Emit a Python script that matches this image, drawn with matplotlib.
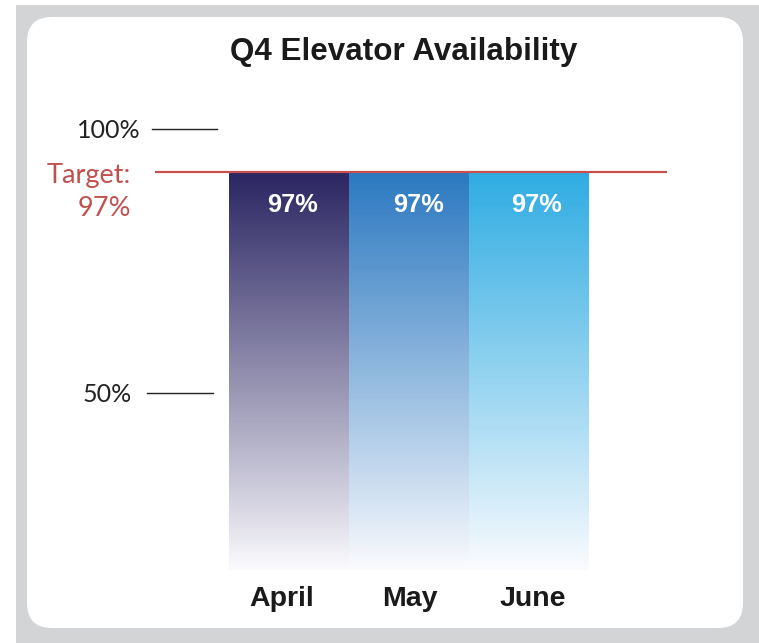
import numpy as np
import matplotlib
matplotlib.use("Agg")
import matplotlib.pyplot as plt
from matplotlib.patches import Rectangle, FancyBboxPatch
from matplotlib.colors import to_rgb

# ---- data ----
months = ["April", "May", "June"]
availability = [97, 97, 97]
value_labels = ["97%", "97%", "97%"]
target = 97
target_label = "Target:\n97%"
ytick_values = [100, 50]
ytick_labels = ["100%", "50%"]
title = "Q4 Elevator Availability"
top_colors = ["#2a2461", "#2a78c0", "#2eabe2"]

W, H = 759, 643
fig = plt.figure(figsize=(W / 100, H / 100), dpi=100)
fig.patch.set_facecolor("white")

def fx(px):
    return px / W

def fy(py):
    return 1 - py / H

# grey backdrop and white rounded card
fig.patches.append(Rectangle((fx(16), 0), 1 - fx(16), fy(5), transform=fig.transFigure,
                             facecolor="#d3d4d6", edgecolor="none", zorder=0))
r = 0.033
fig.patches.append(FancyBboxPatch((fx(27) + r, fy(628) + r * W / H),
                                  fx(743) - fx(27) - 2 * r, fy(17) - fy(628) - 2 * r * W / H,
                                  boxstyle=f"round,pad={r},rounding_size={r}",
                                  transform=fig.transFigure, facecolor="white",
                                  edgecolor="none", zorder=1, mutation_aspect=W / H))

# piecewise scale to match the infographic's vertical layout
vals = [-100, 0, 50, 97, 100, 200]
pix = [-354, 0, 177, 398, 441, 1441]

def fwd(v):
    return np.interp(v, vals, pix)

def inv(p):
    return np.interp(p, pix, vals)

ax = fig.add_axes([fx(28), 1 - 570 / H, fx(743) - fx(28), 441 / H])
ax.set_zorder(2)
ax.patch.set_alpha(0)
ax.set_yscale("function", functions=(fwd, inv))
ax.set_ylim(0, 100)
x = np.arange(len(months))
ax.set_xlim((28 - 289) / 120, (743 - 289) / 120)
for s in ax.spines.values():
    s.set_visible(False)
ax.set_yticks([])
ax.set_xticks([])
ax.minorticks_off()

value_dx = [3, 9, 7]
month_dx = [-7, 1, 4]

# gradient bars
for i, (v, c) in enumerate(zip(availability, top_colors)):
    ys = np.linspace(0, v, 300)
    t = fwd(ys) / fwd(v)  # 0 bottom, 1 top
    top = np.array(to_rgb(c))
    bottom = np.array([0.985, 0.985, 0.995])
    tt = t ** 0.95
    cols = bottom[None, :] * (1 - tt[:, None]) + top[None, :] * tt[:, None]
    img = cols[:-1, None, :]
    xs = np.array([x[i] - 0.5, x[i] + 0.5])
    ax.pcolormesh(xs, ys, img, shading="flat", edgecolors="none", antialiased=False, zorder=2)
    ax.annotate(value_labels[i], (x[i], v), xytext=(value_dx[i], -33), textcoords="offset pixels",
                ha="center", va="center", color="white", fontsize=18.3,
                fontweight="bold", family="Liberation Sans", zorder=4)
    ax.annotate(months[i], (x[i], 0), xytext=(month_dx[i], -29), textcoords="offset pixels",
                ha="center", va="center", color="#1a1a1a", fontsize=20.5,
                fontweight="bold", family="Liberation Sans", annotation_clip=False)

# target line
ax.hlines(target, (155 - 289) / 120, (667 - 289) / 120, color="#c9504e", lw=1.6, zorder=3)
ax.annotate(target_label, ((131 - 289) / 120, target), xytext=(0, -20),
            textcoords="offset pixels", ha="right", va="center", color="#c0504d",
            fontsize=19.5, family="Lato", linespacing=1.45, annotation_clip=False)

# y reference lines
tick_spans = [((152 - 289) / 120, (217 - 289) / 120), ((147 - 289) / 120, (213 - 289) / 120)]
label_x = [(141 - 289) / 120, (132 - 289) / 120]
for yv, lab, (x0, x1), lx in zip(ytick_values, ytick_labels, tick_spans, label_x):
    ax.plot([x0, x1], [yv, yv], color="#222222", lw=1.0, clip_on=False)
    ax.annotate(lab, (lx, yv), xytext=(0, -2), textcoords="offset pixels",
                ha="right", va="center", fontsize=18, family="Lato",
                color="#222222", annotation_clip=False)

fig.text(fx(404), fy(52), title, ha="center", va="center", fontsize=22.6,
         fontweight="bold", family="Liberation Sans", color="#1a1a1a", zorder=5)

fig.savefig("out.png", dpi=100)
